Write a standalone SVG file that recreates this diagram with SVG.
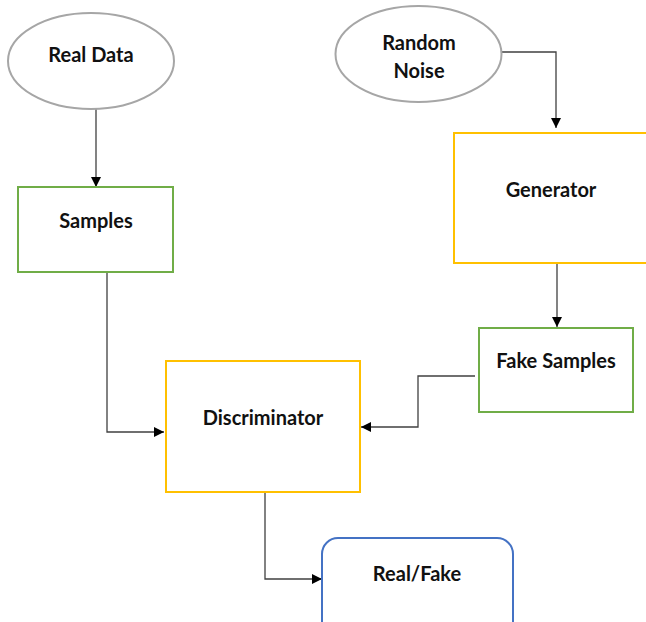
<svg xmlns="http://www.w3.org/2000/svg" width="646" height="622" viewBox="0 0 646 622">
  <defs>
    <marker id="arr" viewBox="0 0 10 10" refX="10" refY="5" markerWidth="10" markerHeight="10" markerUnits="userSpaceOnUse" orient="auto">
      <path d="M0,0 L10,5 L0,10 Z" fill="#000"/>
    </marker>
    <style>
      .lbl { font-family: Lato, "Open Sans", "Liberation Sans", sans-serif; font-weight: bold; font-size: 20px; fill: #111; text-anchor: middle; }
      .ell { fill: #fff; stroke: #A6A6A6; stroke-width: 2; }
      .grn { fill: #fff; stroke: #70AD47; stroke-width: 2; }
      .ylw { fill: #fff; stroke: #FFC000; stroke-width: 2; }
      .blu { fill: #fff; stroke: #4472C4; stroke-width: 2; }
      .con { fill: none; stroke: #404040; stroke-width: 1.3; marker-end: url(#arr); }
    </style>
  </defs>
  <rect width="646" height="622" fill="#fff"/>
  <g id="connectors">
    <path class="con" d="M96,109 L96,187"/>
    <path class="con" d="M502,52 L556,52 L556,128"/>
    <path class="con" d="M557,263 L557,327"/>
    <path class="con" d="M107,272 L107,432 L164,432"/>
    <path class="con" d="M475,376 L418,376 L418,427 L361,427"/>
    <path class="con" d="M265,492 L265,579 L322,579"/>
  </g>
  <g id="real-data">
    <ellipse class="ell" cx="91" cy="61" rx="83" ry="48"/>
    <text class="lbl" x="91" y="62">Real Data</text>
  </g>
  <g id="random-noise">
    <ellipse class="ell" cx="418.5" cy="54" rx="83" ry="48"/>
    <text class="lbl" x="419" y="50">Random</text>
    <text class="lbl" x="419" y="78">Noise</text>
  </g>
  <g id="samples">
    <rect class="grn" x="18" y="187" width="155" height="85"/>
    <text class="lbl" x="96" y="228">Samples</text>
  </g>
  <g id="generator">
    <rect class="ylw" x="454" y="133" width="200" height="130"/>
    <text class="lbl" x="551" y="197">Generator</text>
  </g>
  <g id="fake-samples">
    <rect class="grn" x="479" y="328" width="154" height="84"/>
    <text class="lbl" x="556" y="368">Fake Samples</text>
  </g>
  <g id="discriminator">
    <rect class="ylw" x="166" y="361" width="194" height="131"/>
    <text class="lbl" x="263" y="425">Discriminator</text>
  </g>
  <g id="real-fake">
    <rect class="blu" x="322" y="538" width="191" height="110" rx="16" ry="16"/>
    <text class="lbl" x="417" y="581">Real/Fake</text>
  </g>
</svg>
